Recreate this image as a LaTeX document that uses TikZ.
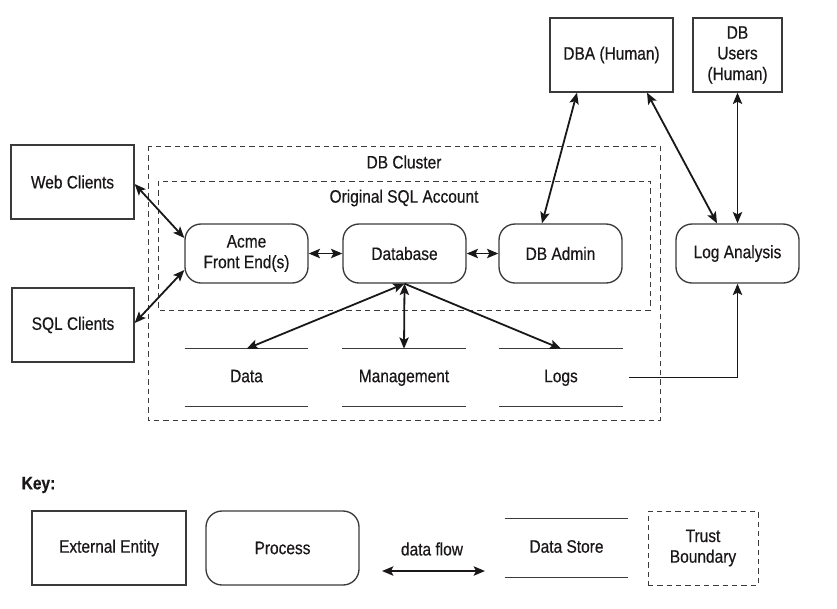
\documentclass[tikz,border=0pt]{standalone}
\usepackage{fontspec}
\setmainfont{Liberation Sans}[FakeStretch=0.86,FakeBold=0.5]
\usetikzlibrary{arrows.meta,calc}
\definecolor{ink}{HTML}{1A1718}
\definecolor{edge}{HTML}{3A3A3A}
\tikzset{
  lbl/.style={font=\fontsize{13.5}{15.5}\selectfont, text=ink, align=center},
  entity/.style={lbl, draw=edge, line width=1pt, inner sep=0pt},
  proc/.style={entity, rounded corners=12pt},
  store/.style={lbl, inner sep=0pt, text height=9.5pt, text depth=2.5pt},
  bound/.style={draw=ink!85, line width=0.6pt, dash pattern=on 4pt off 3pt},
  storeline/.style={draw=edge, line width=1.1pt},
  flow/.style={draw=ink, line width=1.35pt, {Stealth[length=8.5pt,width=7pt,inset=1.8pt]}-{Stealth[length=8.5pt,width=7pt,inset=1.8pt]}},
  oneflow/.style={draw=ink, line width=1.35pt, -{Stealth[length=8.5pt,width=7pt,inset=1.8pt]}}
}
\begin{document}
\begin{tikzpicture}[x=0.75pt,y=-0.75pt]
\path[use as bounding box] (0,0) rectangle (837,608);

% trust boundaries
\draw[bound] (148,146) rectangle (660,420);
\draw[bound] (158,181) rectangle (650,310);
\node[lbl] (clusterlbl) at (404,162) {DB Cluster};
\node[lbl] (accountlbl) at (404,198) {Original SQL Account};

% external entities
\node[entity, minimum width=92.25pt, minimum height=55.5pt] (web) at (72.5,182) {Web Clients};
\node[entity, minimum width=91.5pt, minimum height=55.5pt] (sql) at (73,325) {SQL Clients};
\node[entity, minimum width=92.25pt, minimum height=55.5pt] (dba) at (611.5,55) {DBA (Human)};
\node[entity, minimum width=66.75pt, minimum height=55.5pt] (users) at (737.5,55) {DB\\Users\\(Human)};

% processes
\node[proc, minimum width=92.25pt, minimum height=44.25pt] (acme) at (246.5,253.5) {Acme\\Front End(s)};
\node[proc, minimum width=92.25pt, minimum height=44.25pt] (db) at (404.5,253.5) {Database};
\node[proc, minimum width=92.25pt, minimum height=44.25pt] (admin) at (560.5,253.5) {DB Admin};
\node[proc, minimum width=92.25pt, minimum height=44.25pt] (loga) at (737.5,253.5) {Log Analysis};

% data stores
\node[store, minimum width=92.25pt, minimum height=42.75pt] (data) at (246.5,377.5) {Data};
\node[store, minimum width=92.25pt, minimum height=42.75pt] (mgmt) at (404,377.5) {Management};
\node[store, minimum width=92.25pt, minimum height=42.75pt] (logs) at (561,377.5) {Logs};
\foreach \s in {data,mgmt,logs}{
  \draw[storeline] (\s.north west) -- (\s.north east);
  \draw[storeline] (\s.south west) -- (\s.south east);
}

% flows
\draw[flow] (web.east |- 0,184) -- ($(acme.west)+(0,-15.5)$);
\draw[flow] (sql.east |- 0,323) -- ($(acme.west)+(0,16.5)$);
\draw[flow] (acme.east) -- (db.west);
\draw[flow] (db.east) -- (admin.west);
\draw[flow] (db.south) -- (data.north);
\draw[flow] (db.south) -- (mgmt.north);
\draw[oneflow] (db.south) -- (logs.north);
\draw[flow] ($(dba.south)+(-34.5,0)$) -- ($(admin.north)+(-18.5,0)$);
\draw[flow] ($(dba.south)+(35.5,0)$) -- ($(loga.north)+(-20.5,0)$);
\draw[flow] (users.south) -- (loga.north);
\draw[oneflow] ($(logs.east)+(6.5,0)$) -| (loga.south);

% key
\node[lbl, anchor=west, font=\fontsize{13.5}{15.5}\selectfont\bfseries] (key) at (17,485) {Key:};
\node[entity, minimum width=115.5pt, minimum height=55.5pt] (kext) at (109,548) {External Entity};
\node[proc, minimum width=114.75pt, minimum height=55.5pt] (kproc) at (282.5,548) {Process};
\node[lbl] (kflow) at (432,549) {data flow};
\coordinate (kfa) at (382,571);
\coordinate (kfb) at (485,571);
\draw[flow] (kfa) -- (kfb);
\node[store, minimum width=92.25pt, minimum height=43.5pt] (kstore) at (566.5,548) {Data Store};
\draw[storeline] (kstore.north west) -- (kstore.north east);
\draw[storeline] (kstore.south west) -- (kstore.south east);
\node[lbl, bound, inner sep=0pt, minimum width=82.5pt, minimum height=55.5pt] (ktrust) at (703,548) {Trust\\Boundary};
\end{tikzpicture}
\end{document}
